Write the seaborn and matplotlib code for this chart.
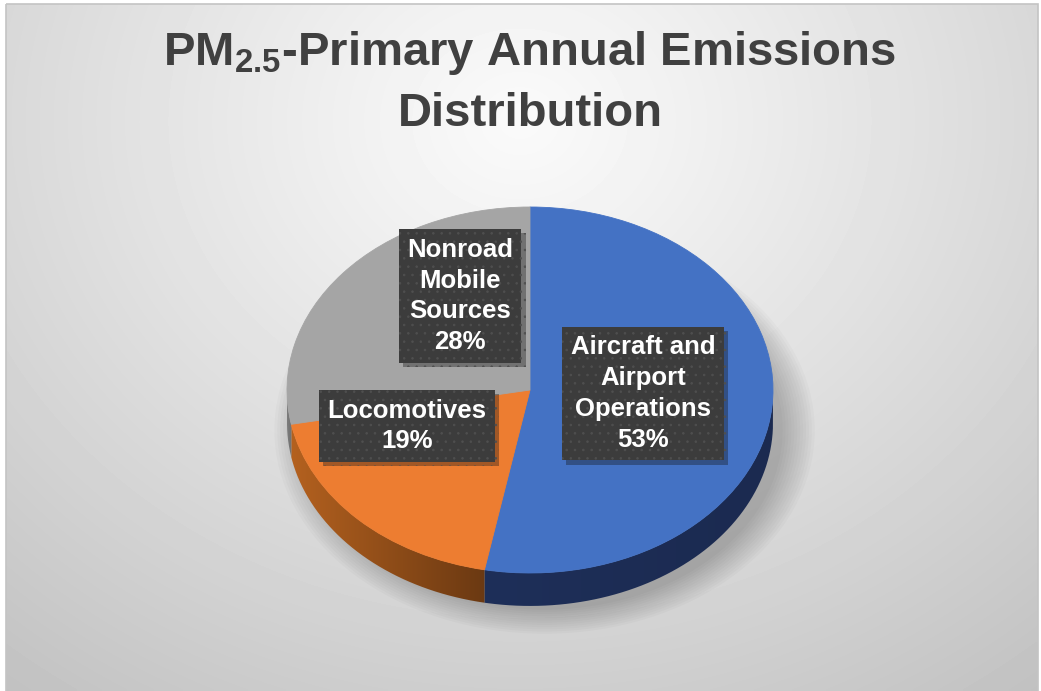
import numpy as np
import matplotlib
matplotlib.use('Agg')
import matplotlib.pyplot as plt
import matplotlib.patheffects as pe
from matplotlib.path import Path
from matplotlib.patches import PathPatch, Ellipse, Rectangle
from matplotlib.colors import LinearSegmentedColormap
import seaborn as sns

# data
sources = ['Aircraft and\nAirport\nOperations', 'Locomotives', 'Nonroad\nMobile\nSources']
shares = [53, 19, 28]
top_colors = ['#4472c4', '#ed7d31', '#a5a5a5']
side_colors = [('#1e2f59', '#1b2a50'), ('#b4611f', '#6b3912'), ('#7d7d7d', '#6f6f6f')]
label_pos = [(0.465, -0.02), (-0.506, -0.197), (-0.288, 0.514)]

sns.set_theme(style='white')
plt.rcParams['font.family'] = ['Liberation Sans', 'DejaVu Sans']
plt.rcParams['mathtext.fontset'] = 'custom'
plt.rcParams['mathtext.rm'] = 'Liberation Sans:bold'
plt.rcParams['mathtext.it'] = 'Liberation Sans:bold'
plt.rcParams['mathtext.bf'] = 'Liberation Sans:bold'
plt.rcParams['hatch.linewidth'] = 0.6

W, H = 1041, 691
fig = plt.figure(figsize=(W / 100, H / 100), dpi=100, facecolor='white')

# radial grey background
bg = fig.add_axes([0, 0, 1, 1])
gx, gy = np.meshgrid(np.linspace(6, 1038, 300), np.linspace(4, 691, 200))
r = np.sqrt(((gx - 520) / 720) ** 2 + ((gy - 120) / 620) ** 2)
shade = np.clip(250 - 48 * r ** 1.1, 0, 255) / 255
bg.imshow(shade, cmap='gray', vmin=0, vmax=1, extent=[6, 1038, 691, 4],
          interpolation='bilinear', aspect='auto')
bg.add_patch(Rectangle((6, 3.5), 1032, 690, fill=False, ec='#c4c4c4', lw=1.2))
bg.set_xlim(0, W)
bg.set_ylim(H, 0)
bg.axis('off')

# pie axes: unit circle -> ellipse rx x ry pixels
cx, cy, rx, ry = 530, 390, 243, 183
x0, x1, y0, y1 = -1.2, 1.2, -1.4, 1.2
ax = fig.add_axes([(cx + x0 * rx) / W, (H - (cy - y0 * ry)) / H,
                   (x1 - x0) * rx / W, (y1 - y0) * ry / H])

wedges, _ = ax.pie(shares, colors=top_colors, startangle=90, counterclock=False,
                   wedgeprops=dict(linewidth=0.6, zorder=5))
for w, c in zip(wedges, top_colors):
    w.set_edgecolor(c)

# side of the disc
depth = 0.18
grad = np.linspace(0, 1, 256).reshape(1, -1)
for w, (cl, cr) in zip(wedges, side_colors):
    for k in (-360, 0, 360):
        lo, hi = max(w.theta1, -180 + k), min(w.theta2, k)
        if hi <= lo:
            continue
        t = np.radians(np.linspace(lo, hi, 120))
        xs = np.concatenate([np.cos(t), np.cos(t[::-1])])
        ys = np.concatenate([np.sin(t), np.sin(t[::-1]) - depth])
        patch = PathPatch(Path(np.column_stack([xs, ys])), fc='none', ec='none', zorder=3)
        ax.add_patch(patch)
        cmap = LinearSegmentedColormap.from_list('side', [cl, cr])
        im = ax.imshow(grad, cmap=cmap, extent=[xs.min(), xs.max(), ys.min(), ys.max()],
                       aspect='auto', zorder=3, interpolation='bilinear')
        im.set_clip_path(patch)

# soft shadow under the pie, pushed to the lower right
for i in range(12):
    s = 0.98 + i * 0.012
    ax.add_patch(Ellipse((0.06, -depth - 0.04), 2 * s, 2 * s, fc='black',
                         alpha=0.02, ec='none', zorder=1))

# labels
for name, share, (lx, ly) in zip(sources, shares, label_pos):
    t = ax.text(lx, ly, f'{name}\n{share}%', ha='center', va='center', color='white',
                fontsize=18.5, fontweight='bold', linespacing=1.36, zorder=8,
                bbox=dict(boxstyle='square,pad=0.33', fc='#3c3c3c', ec='#4f4f4f',
                          lw=0, hatch='..'))
    t.get_bbox_patch().set_path_effects([pe.SimplePatchShadow(offset=(3, -3), alpha=0.35),
                                         pe.Normal()])

ax.set_aspect('auto')
ax.set_xlim(x0, x1)
ax.set_ylim(y0, y1)
ax.axis('off')

fig.text(530 / W, 1 - 29 / H, 'PM$_{2.5}$-Primary Annual Emissions\nDistribution',
         ha='center', va='top', fontsize=34, fontweight='bold', color='#404040',
         linespacing=1.45)

fig.savefig('out.png', dpi=100)
